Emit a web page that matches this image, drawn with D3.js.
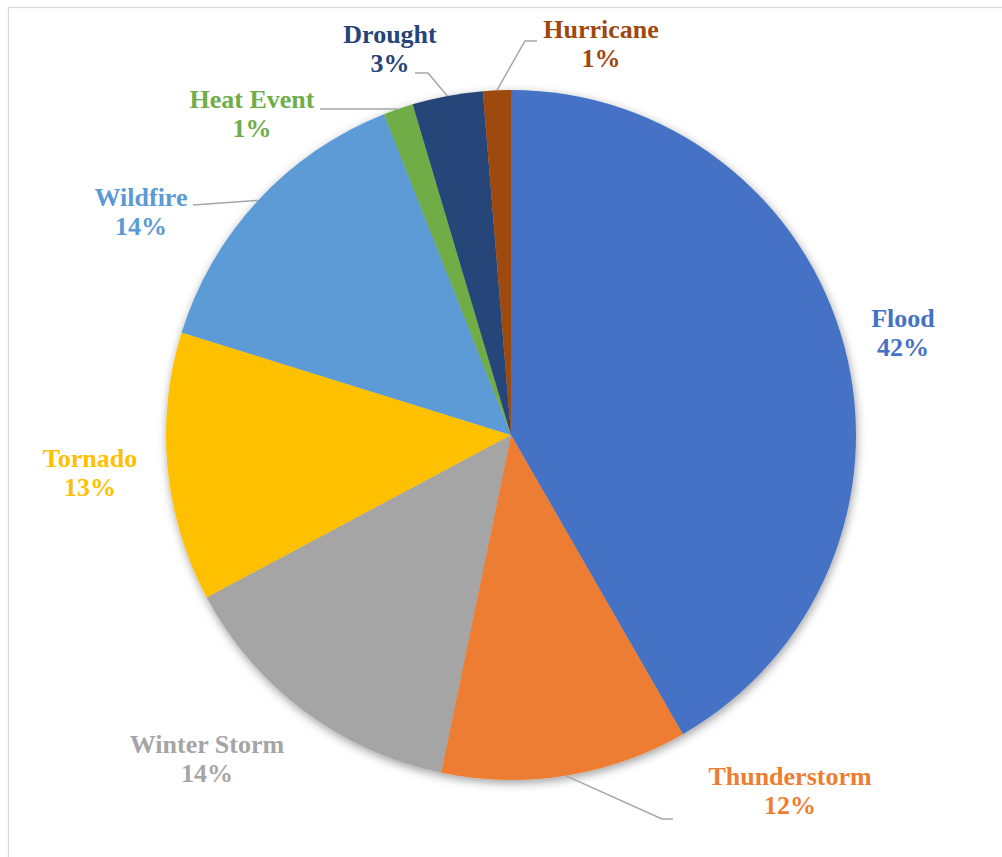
<!DOCTYPE html>
<html>
<head>
<meta charset="utf-8">
<script src="https://cdn.jsdelivr.net/npm/d3@7"></script>
<style>
  html, body { margin: 0; padding: 0; background: #ffffff; }
  svg { display: block; }
</style>
</head>
<body>
<svg id="chart" width="1002" height="857"></svg>
<script>
// Share of disaster declarations by event type (percent), clockwise from 12 o'clock
const categories = ["Flood", "Thunderstorm", "Winter Storm", "Tornado", "Wildfire", "Heat Event", "Drought", "Hurricane"];
const shares = [41.7, 11.55, 13.95, 12.6, 14.2, 1.4, 3.3, 1.3];
const colors = ["#4472C4", "#ED7D31", "#A5A5A5", "#FFC000", "#5B9BD5", "#70AD47", "#264478", "#9E480E"];

// Label placement: centre x and first-line baseline, relative to the pie centre
const labelPos = {
  "Flood":        { dx: 392,  dy: -108 },
  "Thunderstorm": { dx: 279,  dy: 350 },
  "Winter Storm": { dx: -304, dy: 318 },
  "Tornado":      { dx: -421, dy: 32 },
  "Wildfire":     { dx: -370, dy: -229 },
  "Heat Event":   { dx: -259, dy: -327 },
  "Drought":      { dx: -121, dy: -392 },
  "Hurricane":    { dx: 90,   dy: -397 }
};
// Leader lines: elbow and end points relative to the pie centre
const leaders = {
  "Thunderstorm": { elbow: [151, 384],  end: [162, 384] },
  "Wildfire":     { elbow: [-318, -230], end: [-318, -230] },
  "Heat Event":   { elbow: [-114, -326], end: [-191, -326] },
  "Drought":      { elbow: [-83, -362], end: [-96, -362] },
  "Hurricane":    { elbow: [14, -394],  end: [26, -394] }
};

const svg = d3.select("#chart");
const cx = 511, cy = 435, R = 345;

// Chart area frame
svg.append("rect")
  .attr("x", 8.5).attr("y", 7.5)
  .attr("width", 1100).attr("height", 1000)
  .attr("fill", "#ffffff")
  .attr("stroke", "#d9d9d9")
  .attr("stroke-width", 1.3);

const defs = svg.append("defs");
const shadow = defs.append("filter").attr("id", "pieShadow")
  .attr("x", "-10%").attr("y", "-10%").attr("width", "120%").attr("height", "120%");
shadow.append("feDropShadow")
  .attr("dx", 1).attr("dy", 3).attr("stdDeviation", 5)
  .attr("flood-color", "#000").attr("flood-opacity", 0.38);

const data = categories.map((c, i) => ({ name: c, value: shares[i], color: colors[i] }));
const total = d3.sum(shares);
const pie = d3.pie().value(d => d.value).sort(null);
const arcs = pie(data);
const arc = d3.arc().innerRadius(0).outerRadius(R);

const g = svg.append("g").attr("transform", `translate(${cx},${cy})`);

g.append("g").attr("filter", "url(#pieShadow)")
  .selectAll("path")
  .data(arcs)
  .join("path")
  .attr("d", arc)
  .attr("fill", d => d.data.color);

// Leader lines from the slice edge at its mid-angle
const edge = d3.arc().innerRadius(R).outerRadius(R);
g.append("g").selectAll("polyline")
  .data(arcs.filter(d => leaders[d.data.name]))
  .join("polyline")
  .attr("points", d => {
    const p = edge.centroid(d);
    const L = leaders[d.data.name];
    return [p, L.elbow, L.end].map(q => q.join(",")).join(" ");
  })
  .attr("fill", "none")
  .attr("stroke", "#a6a6a6")
  .attr("stroke-width", 1.5);

// Category and percentage labels
const fmt = v => Math.round(v / total * 100) + "%";
const labels = g.append("g").selectAll("text")
  .data(arcs)
  .join("text")
  .style("font-family", "'Liberation Serif', 'Times New Roman', serif")
  .style("font-weight", "bold")
  .style("font-size", "26px")
  .attr("text-anchor", "middle")
  .attr("fill", d => d.data.color)
  .attr("x", d => labelPos[d.data.name].dx)
  .attr("y", d => labelPos[d.data.name].dy);
labels.append("tspan")
  .attr("x", d => labelPos[d.data.name].dx)
  .text(d => d.data.name);
labels.append("tspan")
  .attr("x", d => labelPos[d.data.name].dx)
  .attr("dy", 29)
  .text(d => fmt(d.data.value));
</script>
</body>
</html>
